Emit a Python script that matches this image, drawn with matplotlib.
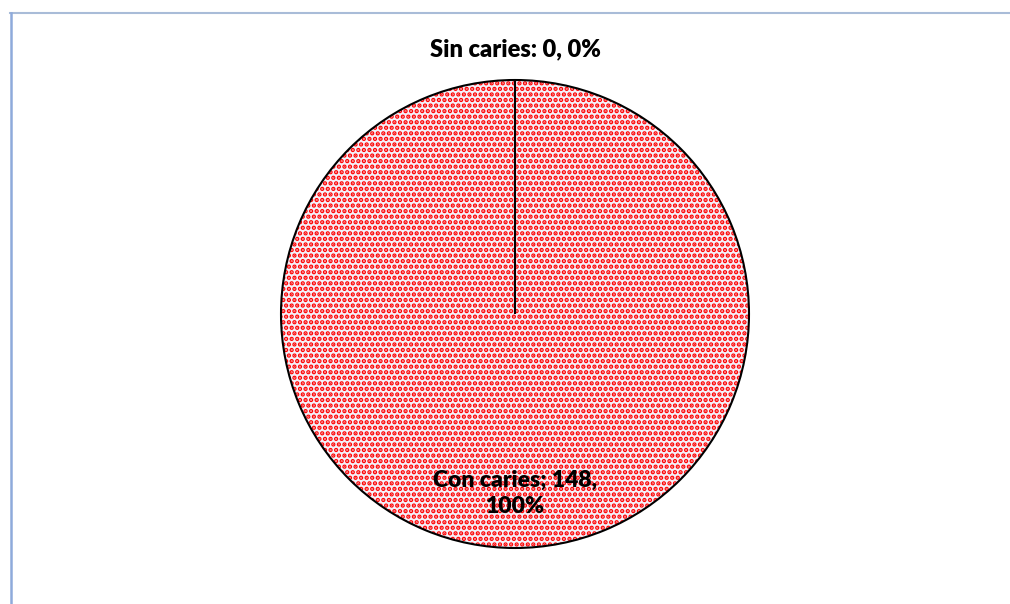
import matplotlib
matplotlib.use("Agg")
import matplotlib.pyplot as plt
from matplotlib.lines import Line2D

# data
categories = ["Con caries", "Sin caries"]
counts = [148, 0]
percents = ["100%", "0%"]

plt.rcParams['font.family'] = ['Lato', 'DejaVu Sans']
plt.rcParams['hatch.linewidth'] = 2.2

fig = plt.figure(figsize=(10.10, 6.04), dpi=100)

# square axes: radius 1 -> 234 px, centre at (515, 314) px
lim = 1.3
size_px = 2 * 234 * lim
ax = fig.add_axes([(515 - size_px / 2) / 1010, (290 - size_px / 2) / 604,
                   size_px / 1010, size_px / 604])

# fill with red dot pattern (hatch takes the edge colour)
ax.pie(counts, startangle=90, counterclock=True, radius=1,
       colors=['#f4f0f8', '#f4f0f8'],
       wedgeprops=dict(edgecolor='#ff0000', linewidth=0, hatch='...'))
# black outline on top
ax.pie(counts, startangle=90, counterclock=True, radius=1,
       colors=['none', 'none'],
       wedgeprops=dict(edgecolor='black', linewidth=1.5))
ax.set_xlim(-lim, lim)
ax.set_ylim(-lim, lim)
ax.set_aspect('equal')
ax.axis('off')

# data labels
ax.text(0, 1.13, f"{categories[1]}: {counts[1]}, {percents[1]}", ha='center', va='center',
        fontsize=17, fontweight='heavy')
ax.text(0, -0.765, f"{categories[0]}; {counts[0]},\n{percents[0]}", ha='center', va='center',
        fontsize=16.5, fontweight='heavy', linespacing=1.3)

# chart frame lines (top and left)
fig.add_artist(Line2D([10 / 1010, 1], [1 - 13 / 604, 1 - 13 / 604], color='#a9bcd8', lw=1.5))
fig.add_artist(Line2D([11 / 1010, 11 / 1010], [0, 1 - 13 / 604], color='#8eaadb', lw=1.8))

fig.savefig("out.png", dpi=100)
